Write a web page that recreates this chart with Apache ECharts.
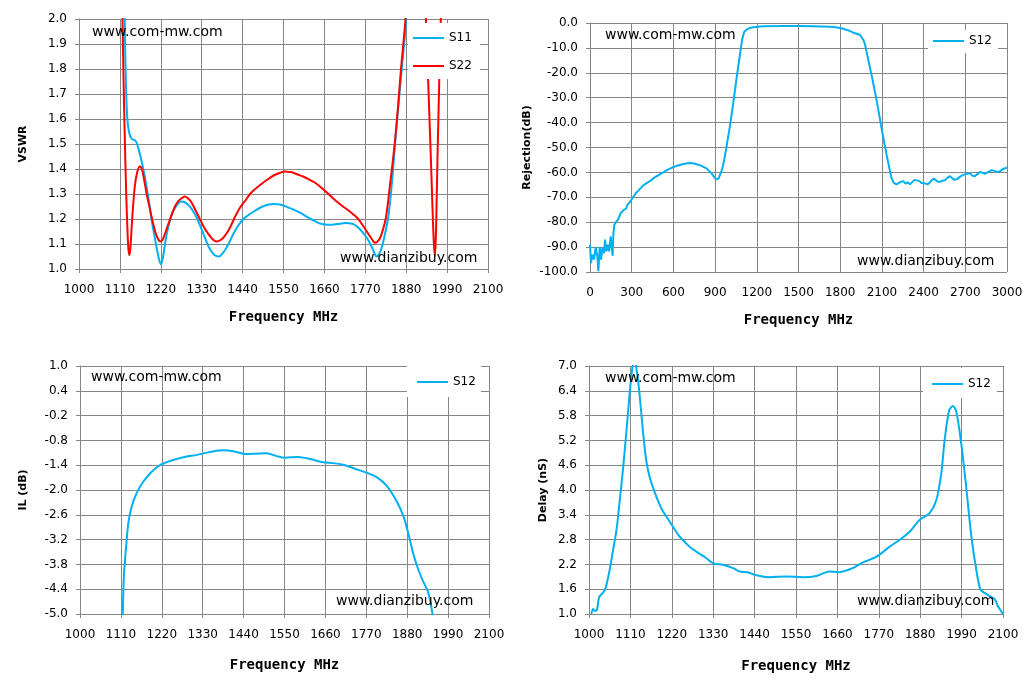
<!DOCTYPE html>
<html>
<head>
<meta charset="utf-8">
<script src="https://cdn.jsdelivr.net/npm/echarts@6/dist/echarts.min.js"></script>
<style>
  html, body { margin: 0; padding: 0; background: #fff; }
  #chart { width: 1033px; height: 681px; }
</style>
</head>
<body>
<div id="chart"></div>
<script>
// ---- data ----
const s11Freq = [1110, 1123, 1126, 1130, 1135, 1142, 1150, 1155, 1162, 1170, 1178, 1186, 1195, 1207, 1215, 1220, 1225, 1236, 1250, 1263, 1275, 1283, 1295, 1303, 1315, 1324, 1340, 1352, 1365, 1376, 1390, 1402, 1415, 1429, 1442, 1455, 1470, 1491, 1510, 1527, 1540, 1550, 1563, 1576, 1595, 1612, 1630, 1648, 1662, 1675, 1695, 1710, 1720, 1732, 1742, 1755, 1769, 1780, 1790, 1797, 1801, 1807, 1814, 1823, 1832, 1842, 1850, 1860, 1868, 1880, 1890, 1900];
const s11Vswr = [3.5, 2.0, 1.75, 1.6, 1.545, 1.52, 1.515, 1.505, 1.47, 1.42, 1.36, 1.29, 1.2, 1.1, 1.04, 1.02, 1.04, 1.14, 1.22, 1.255, 1.27, 1.268, 1.255, 1.24, 1.21, 1.18, 1.12, 1.08, 1.055, 1.05, 1.07, 1.1, 1.14, 1.175, 1.2, 1.215, 1.23, 1.248, 1.258, 1.26, 1.258, 1.254, 1.246, 1.238, 1.225, 1.21, 1.195, 1.182, 1.178, 1.177, 1.18, 1.183, 1.184, 1.182, 1.176, 1.16, 1.135, 1.11, 1.08, 1.055, 1.05, 1.06, 1.085, 1.14, 1.21, 1.35, 1.5, 1.67, 1.8, 2.0, 2.3, 2.6];

const s22Freq = [1105, 1117, 1122, 1127, 1132, 1135, 1138, 1143, 1150, 1157, 1164, 1170, 1176, 1182, 1190, 1198, 1207, 1213, 1218, 1224, 1231, 1245, 1258, 1267, 1275, 1285, 1295, 1303, 1315, 1325, 1337, 1348, 1360, 1370, 1380, 1388, 1398, 1406, 1420, 1435, 1448, 1460, 1472, 1482, 1495, 1509, 1525, 1541, 1554, 1565, 1576, 1590, 1603, 1620, 1635, 1652, 1671, 1693, 1710, 1724, 1738, 1751, 1763, 1774, 1785, 1792, 1796, 1803, 1810, 1818, 1826, 1836, 1849, 1858, 1866, 1878, 1890, 1905, 1920, 1933, 1945, 1957, 1965, 1973, 1985];
const s22Vswr = [3.5, 2.0, 1.6, 1.3, 1.1, 1.055, 1.08, 1.2, 1.33, 1.39, 1.41, 1.395, 1.35, 1.3, 1.245, 1.19, 1.14, 1.12, 1.11, 1.115, 1.14, 1.2, 1.25, 1.272, 1.282, 1.29, 1.28, 1.265, 1.23, 1.2, 1.165, 1.14, 1.118, 1.11, 1.115, 1.125, 1.145, 1.165, 1.21, 1.25, 1.275, 1.3, 1.318, 1.33, 1.345, 1.36, 1.375, 1.385, 1.39, 1.388, 1.385, 1.377, 1.37, 1.357, 1.345, 1.325, 1.3, 1.27, 1.25, 1.235, 1.218, 1.2, 1.175, 1.15, 1.125, 1.11, 1.105, 1.11, 1.125, 1.16, 1.21, 1.33, 1.5, 1.65, 1.8, 2.0, 2.35, 2.6, 2.4, 2.0, 1.5, 1.05, 1.5, 2.0, 2.5];

const rejFreq = [0, 7, 17, 29, 41, 53, 60, 70, 79, 89, 101, 108, 118, 127, 137, 149, 158, 163, 168, 175, 190, 204, 213, 221, 230, 238, 245, 252, 260, 269, 278, 286, 295, 305, 315, 329, 340, 353, 370, 389, 410, 437, 465, 497, 527, 557, 587, 617, 650, 689, 720, 749, 790, 838, 874, 895, 910, 925, 934, 946, 958, 970, 982, 1006, 1030, 1054, 1078, 1095, 1102, 1110, 1126, 1150, 1174, 1246, 1400, 1486, 1600, 1726, 1780, 1822, 1860, 1894, 1942, 1955, 1966, 1978, 1990, 2026, 2062, 2098, 2134, 2160, 2170, 2185, 2194, 2205, 2218, 2235, 2254, 2270, 2285, 2302, 2320, 2335, 2350, 2370, 2385, 2398, 2415, 2430, 2446, 2460, 2475, 2490, 2505, 2520, 2535, 2550, 2570, 2590, 2605, 2620, 2640, 2660, 2686, 2700, 2715, 2734, 2750, 2765, 2780, 2806, 2825, 2840, 2854, 2875, 2890, 2902, 2920, 2938, 2955, 2974, 2990, 3000];
const rejDb = [-89, -96.4, -93, -95, -90, -93.7, -99.7, -90, -95, -90.4, -92.4, -87, -91.7, -89, -91.7, -85.7, -91, -93.5, -85, -81, -79.7, -78.8, -77.5, -76.4, -76.8, -75.3, -76, -75, -74.5, -73, -73.5, -72, -71.8, -70.4, -70, -68.4, -67.8, -67, -66, -65, -64.2, -63.3, -62, -61, -60, -59, -58.2, -57.5, -56.9, -56.4, -56.2, -56.4, -57.1, -58.4, -60.4, -62, -62.8, -62.5, -61.8, -59.5, -57, -53.5, -49.7, -41.7, -32.4, -22.3, -13, -6.5, -5, -3.5, -2.7, -2, -1.7, -1.3, -1.2, -1.2, -1.3, -1.5, -1.8, -2.3, -3, -3.9, -4.7, -5.3, -6.7, -8.5, -11.6, -21, -31, -42.4, -53, -60, -62.4, -64.2, -64.7, -64.8, -64.4, -63.8, -63.5, -64.5, -64, -64.8, -63.8, -63, -63.2, -63.5, -64.3, -64.8, -64.5, -64.8, -64, -63, -62.5, -63.2, -63.8, -63.8, -63.3, -63.3, -62.2, -61.5, -62.3, -63, -62.7, -61.8, -61, -61.2, -60.5, -60.3, -61.3, -61.6, -61, -59.8, -60.2, -60.6, -60.3, -59.6, -59.1, -59.2, -59.6, -59.9, -59.3, -58.5, -58.3, -58];

const ilFreq = [1113, 1115, 1118, 1124, 1130, 1139, 1152, 1170, 1193, 1215, 1242, 1278, 1314, 1350, 1385, 1412, 1448, 1475, 1502, 1529, 1551, 1587, 1619, 1654, 1681, 1713, 1744, 1771, 1798, 1825, 1852, 1870, 1883, 1896, 1910, 1923, 1937, 1948, 1952];
const ilDb = [-5.6, -5.0, -4.09, -3.37, -2.8, -2.4, -2.08, -1.8, -1.56, -1.4, -1.3, -1.21, -1.15, -1.08, -1.04, -1.06, -1.13, -1.12, -1.11, -1.18, -1.22, -1.2, -1.25, -1.33, -1.35, -1.4, -1.5, -1.58, -1.69, -1.9, -2.28, -2.64, -3.05, -3.53, -3.93, -4.21, -4.49, -5.0, -5.6];

const delayFreq = [1006, 1011, 1015, 1021, 1027, 1037, 1044, 1055, 1064, 1073, 1081, 1090, 1099, 1108, 1115, 1121, 1128, 1135, 1143, 1152, 1161, 1174, 1192, 1214, 1241, 1267, 1285, 1312, 1329, 1356, 1383, 1400, 1422, 1440, 1480, 1524, 1569, 1604, 1639, 1662, 1701, 1728, 1763, 1799, 1825, 1852, 1879, 1905, 1923, 1936, 1945, 1957, 1967, 1976, 1989, 2003, 2016, 2029, 2040, 2051, 2065, 2078, 2087, 2100];
const delayNs = [1.0, 1.12, 1.08, 1.1, 1.41, 1.51, 1.63, 2.07, 2.55, 3.03, 3.68, 4.48, 5.37, 6.33, 6.94, 7.15, 6.82, 6.25, 5.45, 4.72, 4.32, 3.96, 3.56, 3.24, 2.87, 2.63, 2.51, 2.35, 2.23, 2.19, 2.11, 2.03, 2.01, 1.95, 1.89, 1.91, 1.89, 1.92, 2.03, 2.01, 2.11, 2.25, 2.38, 2.63, 2.79, 2.99, 3.28, 3.44, 3.76, 4.4, 5.21, 5.93, 6.03, 5.89, 5.13, 4.0, 2.87, 2.07, 1.59, 1.51, 1.43, 1.36, 1.18, 1.0];

// ---- helpers ----
// ECharts starts ticks at a multiple of interval, so axes whose min is not
// a multiple are shifted and relabelled.
function pairs(xs, ys, dx, dy) {
  return xs.map((x, i) => [x - dx, ys[i] - dy]);
}

const BLUE = "#00B0F0";
const RED = "#FF0000";
const GRID = "#868686";
const FONT = "DejaVu Sans";

function xAxis(gridIndex, max, interval, shift, nameGap) {
  return {
    type: "value", gridIndex, min: 0, max, interval,
    name: "Frequency MHz", nameLocation: "middle", nameGap,
    nameTextStyle: { fontFamily: "DejaVu Sans Mono", fontWeight: "bold", fontSize: 14, color: "#000" },
    axisLine: { lineStyle: { color: GRID, width: 1 } },
    axisTick: { show: true, length: 4, lineStyle: { color: GRID } },
    axisLabel: { fontFamily: FONT, fontSize: 12, color: "#000", margin: 15, formatter: (v) => String(v + shift) },
    splitLine: { show: true, lineStyle: { color: GRID, width: 1 } },
  };
}

function yAxis(gridIndex, min, max, interval, shift, name, nameGap) {
  return {
    type: "value", gridIndex, min, max, interval,
    name, nameLocation: "middle", nameGap,
    nameTextStyle: { fontFamily: FONT, fontWeight: "bold", fontSize: 11, color: "#000" },
    axisLine: { show: true, lineStyle: { color: GRID, width: 1 } },
    axisTick: { show: true, length: 4, lineStyle: { color: GRID } },
    axisLabel: { fontFamily: FONT, fontSize: 12, color: "#000", margin: 12, formatter: (v) => (v + shift).toFixed(1) },
    splitLine: { show: true, lineStyle: { color: GRID, width: 1 } },
  };
}

// legend swatch is a plain 2px line, like the spreadsheet legend
function legend(names, left, top, padding) {
  return {
    data: names, left, top, orient: "vertical", padding,
    icon: "rect", itemGap: 16, itemWidth: 31, itemHeight: 2,
    backgroundColor: "#fff",
    textStyle: { fontFamily: FONT, fontSize: 12, color: "#000" },
  };
}

function line(name, color, idx, data, smooth) {
  return {
    name, type: "line", xAxisIndex: idx, yAxisIndex: idx, data,
    symbol: "none", smooth, color,
    lineStyle: { color, width: 2 },
  };
}

function mark(text, x, y) {
  return {
    type: "text", x, y, z: 10,
    style: { text, fontFamily: FONT, fontSize: 14, fill: "#000", textVerticalAlign: "middle" },
  };
}

const chart = echarts.init(document.getElementById("chart"), null, { renderer: "canvas" });
chart.setOption({
  backgroundColor: "#fff",
  animation: false,
  grid: [
    { left: 79, top: 19, width: 409, height: 250 },
    { left: 590, top: 23, width: 417, height: 249 },
    { left: 80, top: 366, width: 409, height: 248 },
    { left: 589, top: 366, width: 414, height: 248 },
  ],
  xAxis: [
    xAxis(0, 1100, 110, 1000, 41),
    xAxis(1, 3000, 300, 0, 41),
    xAxis(2, 1100, 110, 1000, 44),
    xAxis(3, 1100, 110, 1000, 45),
  ],
  yAxis: [
    yAxis(0, 1, 2, 0.1, 0, "VSWR", 50),
    yAxis(1, -100, 0, 10, 0, "Rejection(dB)", 57),
    yAxis(2, 0, 6, 0.6, -5, "IL (dB)", 51),
    yAxis(3, 0, 6, 0.6, 1, "Delay (nS)", 40),
  ],
  legend: [
    legend(["S11", "S22"], 408, 23, [9, 8, 7, 5]),
    legend(["S12"], 928, 30, [5, 6, 6, 5]),
    legend(["S12"], 407, 366, [10, 5, 9, 10]),
    legend(["S12"], 923, 368, [10, 6, 8, 9]),
  ],
  graphic: [
    mark("www.com-mw.com", 92, 32),
    mark("www.dianzibuy.com", 340, 258),
    mark("www.com-mw.com", 605, 35),
    mark("www.dianzibuy.com", 857, 261),
    mark("www.com-mw.com", 91, 377),
    mark("www.dianzibuy.com", 336, 601),
    mark("www.com-mw.com", 605, 378),
    mark("www.dianzibuy.com", 857, 601),
  ],
  series: [
    line("S11", BLUE, 0, pairs(s11Freq, s11Vswr, 1000, 0), 0.3),
    line("S22", RED, 0, pairs(s22Freq, s22Vswr, 1000, 0), 0.3),
    line("S12", BLUE, 1, pairs(rejFreq, rejDb, 0, 0), false),
    line("S12", BLUE, 2, pairs(ilFreq, ilDb, 1000, -5), 0.3),
    line("S12", BLUE, 3, pairs(delayFreq, delayNs, 1000, 1), 0.3),
  ],
});
</script>
</body>
</html>
